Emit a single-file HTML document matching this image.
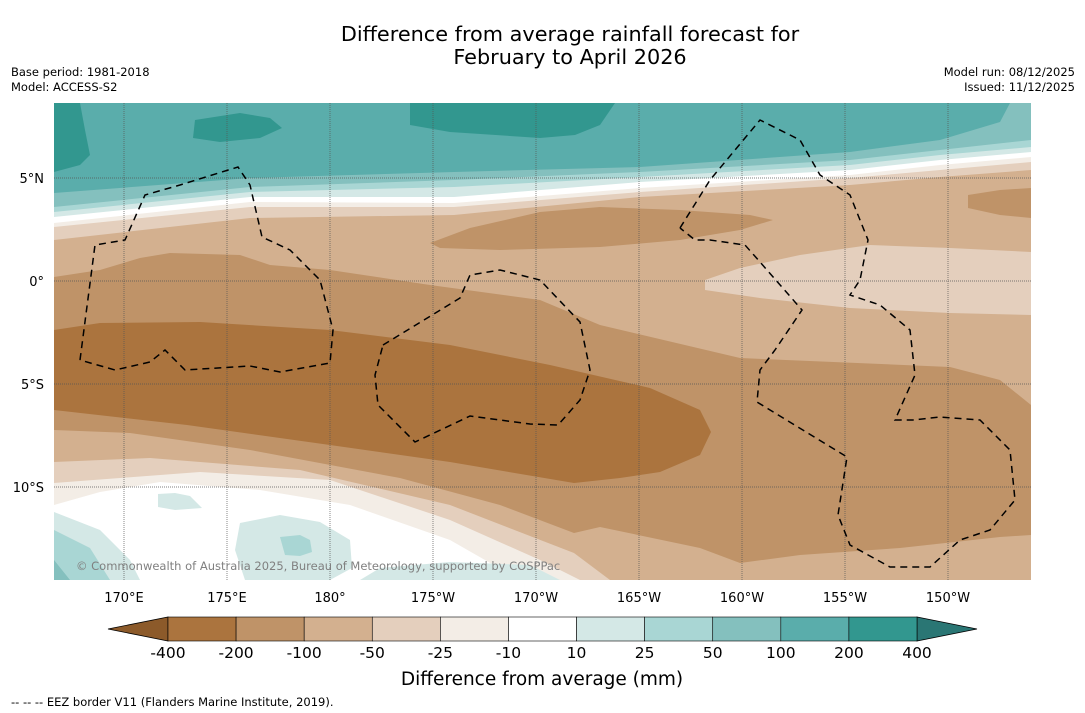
<!DOCTYPE html>
<html><head><meta charset="utf-8">
<style>
body{margin:0;background:#fff;width:1085px;height:713px;overflow:hidden;font-family:"Liberation Sans","DejaVu Sans",sans-serif;}
svg{display:block}
text{font-family:"DejaVu Sans","Liberation Sans",sans-serif;}
</style></head>
<body>
<svg id="chart" width="1085" height="713" viewBox="0 0 1085 713">
<text x="570" y="41" text-anchor="middle" font-size="20.8">Difference from average rainfall forecast for</text>
<text x="570" y="64" text-anchor="middle" font-size="20.8">February to April 2026</text>
<text x="11" y="76" font-size="11.5">Base period: 1981-2018</text>
<text x="11" y="91" font-size="11.5">Model: ACCESS-S2</text>
<text x="1075" y="76" font-size="11.5" text-anchor="end">Model run: 08/12/2025</text>
<text x="1075" y="91" font-size="11.5" text-anchor="end">Issued: 11/12/2025</text>
<defs><clipPath id="mapclip"><rect x="54" y="103" width="977" height="477"/></clipPath></defs>
<g id="map" clip-path="url(#mapclip)">
<rect x="54" y="103" width="977" height="477" fill="#d3b08f"/>
<g id="fills"></g>
<g id="grid"></g>
<g id="eez" fill="none" stroke="#000" stroke-width="1.5" stroke-dasharray="7,5"></g>
<text x="76" y="570" font-size="11.5" fill="#808080">© Commonwealth of Australia 2025, Bureau of Meteorology, supported by COSPPac</text>
</g>
<g id="axes"></g>
<g id="colorbar"></g>
<text x="542" y="685" text-anchor="middle" font-size="18.5">Difference from average (mm)</text>
<text x="11" y="706" font-size="11.5">--  --  -- EEZ border V11 (Flanders Marine Institute, 2019).</text>
</svg>
<script>
const levels=["-400","-200","-100","-50","-25","-10","10","25","50","100","200","400"];
const levelColors=["#ab743e","#bf9368","#d3b08f","#e4cfbd","#f3ede6","#ffffff","#d4e8e6","#a9d6d4","#84c0be","#5aadab","#32978f"];
const underColor="#8c5a2a", overColor="#2a7674";
const lonTicks=[170,175,180,-175,-170,-165,-160,-155,-150];
const latTicks=[5,0,-5,-10];
const NS="http://www.w3.org/2000/svg";
function xOfLon(l){const e=l<0?l+360:l;return 124+(e-170)*20.6;}
function yOfLat(a){return 281-a*20.6;}
function mk(t,p,attrs){const e=document.createElementNS(NS,t);for(const k in attrs)e.setAttribute(k,attrs[k]);p.appendChild(e);return e;}
const fills=document.getElementById('fills');
function poly(pts,fill,name){const e=mk('polygon',fills,{points:pts.map(p=>p.join(',')).join(' '),fill:fill});

}
const bx=[54,250,454,640,850,940,1031];
const bands=[["#e4cfbd",[240,218,215,197,185,177,170]],["#f3ede6",[227,207,207,192,178,170,162]],["#ffffff",[223,202,203,188,175,165,157]],["#d4e8e6",[217,197,197,182,170,160,152]],["#a9d6d4",[212,192,187,177,165,155,147]],["#84c0be",[207,187,180,172,160,150,140]]];
bands.forEach((b,i)=>{const pts=[[54,103],[1031,103]];for(let j=bx.length-1;j>=0;j--)pts.push([bx[j],b[1][j]]);poly(pts,b[0],'north-band-'+i);});
poly([[54,103],[1010,103],[1000,122],[940,140],[850,152],[640,167],[454,172],[250,178],[54,193]],"#5aadab",'north-teal-region');
poly([[54,103],[80,103],[85,130],[90,155],[80,165],[54,172]],"#32978f",'teal-patch-west');
poly([[410,103],[615,103],[600,125],[575,135],[540,138],[450,132],[410,125]],"#32978f",'teal-patch-center');
poly([[195,120],[240,113],[270,118],[282,128],[260,138],[220,142],[193,138]],"#32978f",'teal-patch-small');
poly([[54,462],[150,458],[300,470],[450,505],[574,553],[610,580],[54,580]],"#e4cfbd",'south-band-a');
poly([[54,483],[120,478],[200,472],[330,480],[450,520],[540,560],[580,580],[54,580]],"#f3ede6",'south-band-b');
poly([[54,505],[100,492],[160,482],[260,490],[350,505],[450,540],[520,580],[54,580]],"#ffffff",'south-band-c');
poly([[54,512],[100,530],[130,560],[140,580],[54,580]],"#d4e8e6",'wet-patch-sw');
poly([[54,530],[90,548],[110,580],[54,580]],"#a9d6d4",'wet-patch-sw-inner');
poly([[54,560],[70,580],[54,580]],"#84c0be",'wet-patch-sw-core');
poly([[158,494],[175,493],[190,496],[202,508],[175,510],[158,507]],"#d4e8e6",'wet-patch-small');
poly([[240,523],[280,515],[320,522],[350,540],[352,568],[330,580],[245,580],[235,550]],"#d4e8e6",'wet-patch-south');
poly([[280,537],[300,535],[310,540],[312,552],[300,556],[285,555]],"#a9d6d4",'wet-patch-south-inner');
poly([[360,580],[380,568],[450,562],[530,565],[560,580]],"#d4e8e6",'wet-patch-bottom');
poly([[54,277],[100,270],[140,258],[170,253],[240,255],[270,265],[330,270],[430,285],[540,300],[600,325],[740,358],[950,367],[1000,380],[1031,405],[1031,535],[1000,537],[900,548],[800,555],[740,563],[700,548],[600,527],[574,533],[500,505],[400,478],[250,450],[130,433],[54,430]],"#bf9368",'dry-band-main');
poly([[54,330],[100,323],[200,322],[330,330],[450,345],[550,365],[650,388],[700,410],[711,432],[700,455],[660,472],[620,478],[574,483],[450,462],[330,445],[187,425],[54,410]],"#ab743e",'very-dry-band');
poly([[430,243],[470,228],[540,212],[600,207],[680,210],[750,215],[773,220],[740,230],[680,240],[600,247],[500,250],[440,248]],"#bf9368",'dry-patch-north');
poly([[968,195],[1000,190],[1031,188],[1031,218],[1000,215],[968,208]],"#bf9368",'dry-patch-east');
poly([[705,280],[740,268],[800,255],[870,245],[950,248],[1031,252],[1031,315],[950,313],[850,308],[760,298],[705,290]],"#e4cfbd",'dry-light-patch-east');
const grid=document.getElementById('grid');
lonTicks.forEach(l=>{const x=xOfLon(l);const e=mk('line',grid,{x1:x,x2:x,y1:103,y2:580,stroke:'#555','stroke-width':0.7,'stroke-dasharray':'1,1'});

});
latTicks.forEach(a=>{const y=yOfLat(a);const e=mk('line',grid,{x1:54,x2:1031,y1:y,y2:y,stroke:'#555','stroke-width':0.7,'stroke-dasharray':'1,1'});

});
const eez=document.getElementById('eez');
const eezLines=[
[[80,360],[95,245],[125,240],[145,195],[180,185],[238,167],[250,185],[262,237],[290,250],[320,280],[333,330],[330,363],[280,372],[250,366],[185,370],[165,350],[150,362],[115,370],[80,360]],
[[383,345],[460,298],[470,275],[500,270],[540,280],[580,322],[590,370],[580,400],[558,425],[530,424],[470,416],[415,442],[378,405],[375,375],[383,345]],
[[680,228],[710,180],[760,120],[800,140],[820,175],[850,195],[868,240],[860,280],[850,295],[880,305],[910,330],[915,375],[895,420],[913,420],[940,417],[980,420],[1010,450],[1015,500],[990,530],[960,540],[930,567],[890,567],[850,545],[838,515],[847,457],[757,402],[760,370],[775,350],[802,310],[760,262],[745,245],[710,240],[695,240],[680,228]]];
eezLines.forEach(l=>{const e=mk('polyline',eez,{points:l.map(p=>p.join(',')).join(' ')});

});
const axes=document.getElementById('axes');
lonTicks.forEach(l=>{const t=mk('text',axes,{x:xOfLon(l),y:602,'text-anchor':'middle','font-size':13});t.textContent=Math.abs(l)+'°'+(l===180?'':(l>0?'E':'W'));

});
latTicks.forEach(a=>{const t=mk('text',axes,{x:44,y:yOfLat(a)+5,'text-anchor':'end','font-size':13});t.textContent=Math.abs(a)+'°'+(a===0?'':(a>0?'N':'S'));

});
const cb=document.getElementById('colorbar');
const cbX0=168,cbX1=917,cbY=617,cbH=24,w=(cbX1-cbX0)/levelColors.length;
function cbX(i){return cbX0+i*w;}
let e=mk('polygon',cb,{points:`${cbX0},${cbY} ${cbX0},${cbY+cbH} 108,${cbY+cbH/2}`,fill:underColor,stroke:'#000','stroke-width':0.8});


e=mk('polygon',cb,{points:`${cbX1},${cbY} ${cbX1},${cbY+cbH} 977,${cbY+cbH/2}`,fill:overColor,stroke:'#000','stroke-width':0.8});


levelColors.forEach((c,i)=>{const r=mk('rect',cb,{x:cbX(i),y:cbY,width:w,height:cbH,fill:c,stroke:'#000','stroke-width':0.6});

});
levels.forEach((l,i)=>{const t=mk('text',cb,{x:cbX(i),y:658,'text-anchor':'middle','font-size':15.5});t.textContent=l;

});
</script>
</body></html>
